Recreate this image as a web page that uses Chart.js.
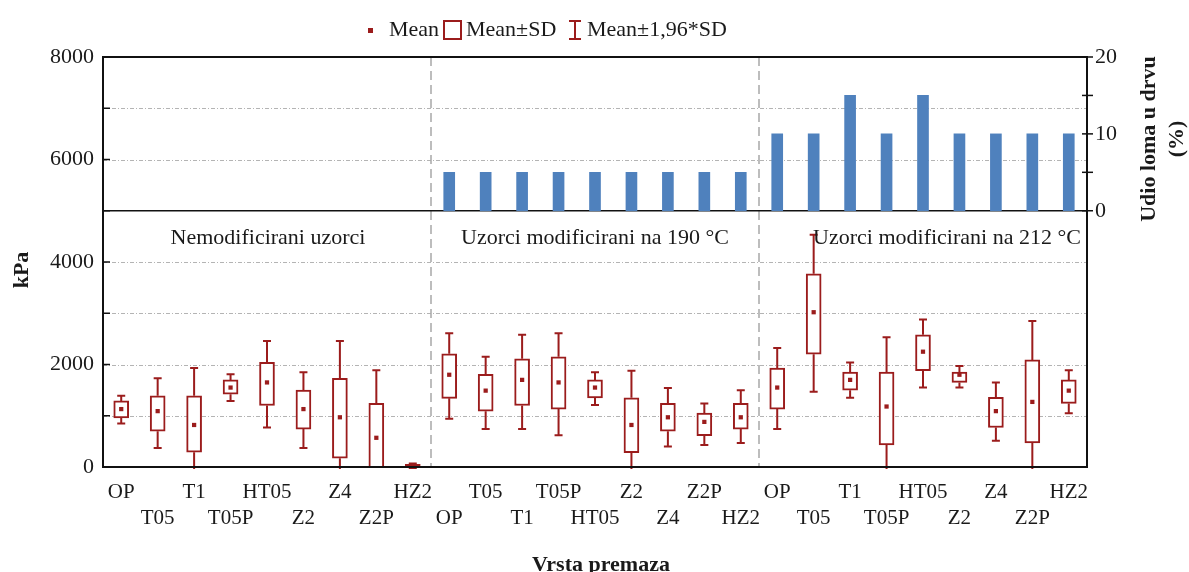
<!DOCTYPE html>
<html lang="hr">
<head>
<meta charset="UTF-8">
<title>Vrsta premaza</title>
<style>
  html, body { margin: 0; padding: 0; background: #fff; }
  #wrap { width: 1189px; height: 572px; }
</style>
</head>
<body>
<div id="wrap"><canvas id="myChart" width="1189" height="572"></canvas></div>
<script src="https://cdn.jsdelivr.net/npm/chart.js"></script>
<script>
// coating types, repeated for the three groups
const categories = [
  'OP','T05','T1','T05P','HT05','Z2','Z4','Z2P','HZ2',
  'OP','T05','T1','T05P','HT05','Z2','Z4','Z2P','HZ2',
  'OP','T05','T1','T05P','HT05','Z2','Z4','Z2P','HZ2'
];
const groupNames = ['Nemodificirani uzorci', 'Uzorci modificirani na 190 °C', 'Uzorci modificirani na 212 °C'];

// kPa values
const meanVals  = [1130,1090,820,1550,1650,1130,970,570,30,   1800,1490,1700,1650,1550,820,970,880,970,   1550,3020,1700,1180,2250,1800,1090,1270,1490];
const sdLow     = [960,700,290,1420,1200,740,170,-100,-20,    1340,1090,1200,1130,1350,280,700,610,740,   1130,2200,1500,430,1880,1650,770,470,1240];
const sdHigh    = [1290,1390,1390,1700,2040,1500,1730,1240,50, 2210,1810,2110,2150,1700,1350,1240,1050,1240, 1930,3770,1850,1850,2580,1850,1360,2090,1700];
const whiskLow  = [850,370,-290,1290,770,370,-520,-750,-40,   940,740,740,620,1210,-240,400,430,470,    740,1470,1350,-180,1550,1550,510,-300,1050];
const whiskHigh = [1390,1730,1930,1810,2460,1850,2460,1890,70, 2610,2150,2580,2610,1850,1880,1540,1240,1500, 2320,4530,2040,2530,2880,1970,1650,2850,1890];

// wood failure share (%), right axis
const woodFailure = [null,null,null,null,null,null,null,null,null, 5,5,5,5,5,5,5,5,5, 10,10,15,10,15,10,10,10,10];

const leftGrid = [1000,2000,3000,4000,6000,7000];
const leftTicks = [0,1000,2000,3000,4000,5000,6000,7000,8000];
const rightTicks = [0,5,10,15,20];

const RED = '#9b1c1c';
const BLUE = '#4f81bd';
const SERIF = "'Liberation Serif', 'DejaVu Serif', serif";

// two rows of labels: even on top row, odd on the second row
const xLabels = categories.map((c, i) => i % 2 === 0 ? [c, ''] : ['', c]);

const decor = {
  id: 'decor',
  beforeDatasetsDraw(chart) {
    const { ctx, chartArea: a, scales } = chart;
    const y = scales.y, x = scales.x;
    ctx.save();
    // dotted grid
    ctx.strokeStyle = '#b4b4b4';
    ctx.lineWidth = 1;
    ctx.setLineDash([4, 2, 1, 2]);
    leftGrid.forEach(v => {
      const py = Math.round(y.getPixelForValue(v)) + 0.5;
      ctx.beginPath(); ctx.moveTo(a.left, py); ctx.lineTo(a.right, py); ctx.stroke();
    });
    // group separators
    ctx.strokeStyle = '#a8a8a8';
    ctx.lineWidth = 1.5;
    ctx.setLineDash([9, 5]);
    [8, 17].forEach(i => {
      const px = (x.getPixelForValue(i) + x.getPixelForValue(i + 1)) / 2;
      ctx.beginPath(); ctx.moveTo(px, a.top); ctx.lineTo(px, a.bottom); ctx.stroke();
    });
    ctx.setLineDash([]);
    // panel divider at 5000
    ctx.strokeStyle = '#111';
    ctx.lineWidth = 1.5;
    const p5 = y.getPixelForValue(5000);
    ctx.beginPath(); ctx.moveTo(a.left, p5); ctx.lineTo(a.right, p5); ctx.stroke();

    // whiskers (mean ± 1,96*SD)
    ctx.save();
    ctx.beginPath(); ctx.rect(a.left, a.top, a.right - a.left, a.bottom - a.top + 2); ctx.clip();
    ctx.strokeStyle = RED;
    ctx.lineWidth = 2;
    categories.forEach((c, i) => {
      const px = x.getPixelForValue(i);
      const wt = y.getPixelForValue(whiskHigh[i]), bt = y.getPixelForValue(sdHigh[i]);
      const bb = y.getPixelForValue(sdLow[i]), wb = y.getPixelForValue(whiskLow[i]);
      ctx.beginPath();
      ctx.moveTo(px, wt); ctx.lineTo(px, bt);
      ctx.moveTo(px, bb); ctx.lineTo(px, wb);
      ctx.moveTo(px - 4, wt); ctx.lineTo(px + 4, wt);
      ctx.moveTo(px - 4, wb); ctx.lineTo(px + 4, wb);
      ctx.stroke();
    });
    ctx.restore();
    ctx.restore();
  },
  afterDatasetsDraw(chart) {
    const { ctx, chartArea: a, scales } = chart;
    const y = scales.y, x = scales.x, y2 = scales.y2;
    ctx.save();
    // frame
    ctx.strokeStyle = '#111';
    ctx.lineWidth = 2;
    ctx.strokeRect(a.left, a.top, a.right - a.left, a.bottom - a.top);
    // tick marks
    ctx.lineWidth = 1.5;
    leftTicks.forEach(v => {
      const py = y.getPixelForValue(v);
      ctx.beginPath(); ctx.moveTo(a.left, py); ctx.lineTo(a.left + 7, py); ctx.stroke();
    });
    rightTicks.forEach(v => {
      const py = y2.getPixelForValue(v);
      ctx.beginPath(); ctx.moveTo(a.right - 5, py); ctx.lineTo(a.right + 6, py); ctx.stroke();
    });

    ctx.fillStyle = '#1a1a1a';
    ctx.font = '22px ' + SERIF;
    ctx.textBaseline = 'middle';
    ctx.textAlign = 'center';
    // group captions
    const capX = [x.getPixelForValue(4) + 1, x.getPixelForValue(13), x.getPixelForValue(22) + 24];
    groupNames.forEach((g, k) => ctx.fillText(g, capX[k], y.getPixelForValue(4470)));

    // legend
    const ly = 30;
    ctx.textAlign = 'left';
    ctx.fillStyle = RED;
    ctx.fillRect(368, ly - 2, 5, 5);
    ctx.fillStyle = '#1a1a1a';
    ctx.fillText('Mean', 389, ly);
    ctx.strokeStyle = RED;
    ctx.lineWidth = 2;
    ctx.strokeRect(444, ly - 9, 17, 18);
    ctx.fillText('Mean±SD', 466, ly);
    ctx.beginPath();
    ctx.moveTo(575, ly - 9); ctx.lineTo(575, ly + 9);
    ctx.moveTo(569, ly - 9); ctx.lineTo(581, ly - 9);
    ctx.moveTo(569, ly + 9); ctx.lineTo(581, ly + 9);
    ctx.stroke();
    ctx.fillText('Mean±1,96*SD', 587, ly);

    // axis titles
    ctx.font = 'bold 22px ' + SERIF;
    ctx.textAlign = 'center';
    ctx.textBaseline = 'alphabetic';
    ctx.fillText('Vrsta premaza', 601, 571);
    ctx.textBaseline = 'middle';
    ctx.save();
    ctx.translate(22, 270);
    ctx.rotate(-Math.PI / 2);
    ctx.fillText('kPa', 0, 0);
    ctx.restore();
    ctx.save();
    ctx.translate(1149, 139);
    ctx.rotate(-Math.PI / 2);
    ctx.fillText('Udio loma u drvu', 0, 0);
    ctx.fillText('(%)', 0, 28);
    ctx.restore();
    ctx.restore();
  }
};

const ctx = document.getElementById('myChart');

new Chart(ctx, {
  type: 'bar',
  data: {
    labels: xLabels,
    datasets: [
      {
        label: 'Udio loma u drvu',
        data: woodFailure,
        yAxisID: 'y2',
        backgroundColor: BLUE,
        borderWidth: 0,
        barThickness: 11,
        grouped: false,
        order: 3
      },
      {
        label: 'Mean±SD',
        data: sdLow.map((v, i) => [v, sdHigh[i]]),
        yAxisID: 'y',
        backgroundColor: '#ffffff',
        borderColor: RED,
        borderWidth: 2,
        borderSkipped: false,
        barThickness: 15,
        grouped: false,
        order: 2
      },
      {
        type: 'line',
        label: 'Mean',
        data: meanVals,
        yAxisID: 'y',
        showLine: false,
        pointStyle: 'rect',
        pointRadius: 3,
        pointBackgroundColor: RED,
        pointBorderColor: RED,
        pointBorderWidth: 0,
        order: 1
      }
    ]
  },
  options: {
    responsive: false,
    animation: false,
    events: [],
    layout: { padding: { top: 57, left: 0, right: 0, bottom: 0 } },
    plugins: {
      legend: { display: false },
      tooltip: { enabled: false }
    },
    scales: {
      x: {
        grid: { display: false, drawTicks: false },
        border: { display: false },
        ticks: {
          autoSkip: false,
          maxRotation: 0,
          padding: 12,
          color: '#1a1a1a',
          font: { family: SERIF, size: 21, lineHeight: 1.24 }
        },
        afterFit(scale) { scale.height = 105; }
      },
      y: {
        position: 'left',
        min: 0,
        max: 8000,
        grid: { display: false, drawTicks: false },
        border: { display: false },
        ticks: {
          stepSize: 1000,
          padding: 9,
          color: '#1a1a1a',
          font: { family: SERIF, size: 22 },
          callback: v => (v % 2000 === 0 ? v : '')
        },
        afterFit(scale) { scale.width = 103; }
      },
      y2: {
        position: 'right',
        min: -100 / 3,
        max: 20,
        grid: { display: false, drawTicks: false },
        border: { display: false },
        afterBuildTicks(scale) { scale.ticks = rightTicks.map(v => ({ value: v })); },
        ticks: {
          padding: 8,
          color: '#1a1a1a',
          font: { family: SERIF, size: 22 },
          callback: v => (v % 10 === 0 ? v : '')
        },
        afterFit(scale) { scale.width = 102; }
      }
    }
  },
  plugins: [decor]
});
</script>
</body>
</html>
